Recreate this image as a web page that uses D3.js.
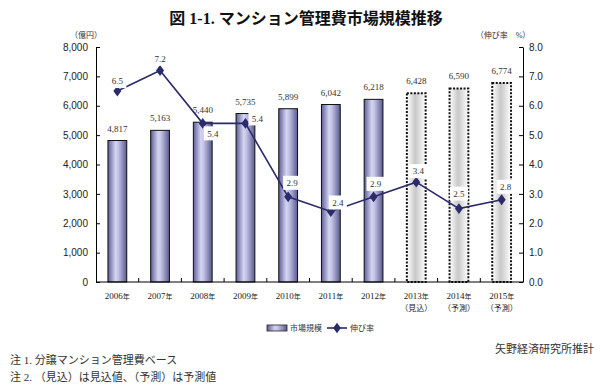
<!DOCTYPE html>
<html>
<head>
<meta charset="utf-8">
<script src="https://cdn.jsdelivr.net/npm/d3@7"></script>
<style>
  body { margin: 0; background: #fff; }
  svg { display: block; font-family: "Liberation Serif", "Noto Sans CJK JP", serif; }
  .axis path, .axis line { stroke: #000; }
  .axis text { font-size: 10px; fill: #222; }
</style>
</head>
<body>
<svg id="chart" width="600" height="388"></svg>
<script>
// ---- data ----
const years = ["2006", "2007", "2008", "2009", "2010", "2011", "2012", "2013", "2014", "2015"];
const yearNotes = ["", "", "", "", "", "", "", "（見込）", "（予測）", "（予測）"];
const marketSize = [4817, 5163, 5440, 5735, 5899, 6042, 6218, 6428, 6590, 6774];
const growthRate = [6.5, 7.2, 5.4, 5.4, 2.9, 2.4, 2.9, 3.4, 2.5, 2.8];
const isForecast = [false, false, false, false, false, false, false, true, true, true];
const leftTicks = [0, 1000, 2000, 3000, 4000, 5000, 6000, 7000, 8000];
const rightTicks = [0, 1, 2, 3, 4, 5, 6, 7, 8];

// ---- layout ----
const CONFIG = {
    plot: { left: 96, right: 523, top: 47, bottom: 282 },
    // offsets of the growth-rate labels from their markers
    rateLabelOffset: [[0, -10], [0, -12], [10, 10], [12, -5], [4, -14], [7, -9], [2, -13], [2, -11], [0, -15], [4, -13]],
    lineColor: "#2b2a6b"
};

const svg = d3.select("#chart");
const P = CONFIG.plot;

const x = d3.scaleBand()
    .domain(years)
    .range([P.left, P.right])
    .paddingInner(0.56)
    .paddingOuter(0.28);

const yLeft = d3.scaleLinear().domain([0, 8000]).range([P.bottom, P.top]);
const yRight = d3.scaleLinear().domain([0, 8]).range([P.bottom, P.top]);

// ---- gradients ----
const defs = svg.append("defs");
const gBar = defs.append("linearGradient").attr("id", "barGrad").attr("x1", 0).attr("x2", 1).attr("y1", 0).attr("y2", 0);
[["0%", "#5e5e96"], ["40%", "#d4d4f2"], ["55%", "#c2c2e6"], ["100%", "#5a5a8e"]]
    .forEach(s => gBar.append("stop").attr("offset", s[0]).attr("stop-color", s[1]));
const gFc = defs.append("linearGradient").attr("id", "fcGrad").attr("x1", 0).attr("x2", 1).attr("y1", 0).attr("y2", 0);
[["0%", "#ffffff"], ["45%", "#c8c8c8"], ["100%", "#ffffff"]]
    .forEach(s => gFc.append("stop").attr("offset", s[0]).attr("stop-color", s[1]));

// ---- title ----
svg.append("text")
    .attr("x", 306).attr("y", 24)
    .attr("text-anchor", "middle")
    .attr("font-size", 16).attr("font-weight", "bold")
    .attr("fill", "#111")
    .text("図 1-1. マンション管理費市場規模推移");

svg.append("text").attr("x", 86).attr("y", 38).attr("text-anchor", "middle")
    .attr("font-size", 8).attr("fill", "#333").text("（億円）");
svg.append("text").attr("x", 503).attr("y", 38).attr("text-anchor", "middle")
    .attr("font-size", 8).attr("fill", "#333").text("（伸び率　%）");

// ---- bars ----
const data = years.map((yr, i) => ({ yr, size: marketSize[i], rate: growthRate[i], fc: isForecast[i], note: yearNotes[i], i }));

svg.append("g").selectAll("rect")
    .data(data)
    .join("rect")
    .attr("x", d => x(d.yr))
    .attr("y", d => yLeft(d.size))
    .attr("width", x.bandwidth())
    .attr("height", d => yLeft(0) - yLeft(d.size))
    .attr("fill", d => d.fc ? "url(#fcGrad)" : "url(#barGrad)")
    .attr("stroke", "#111")
    .attr("stroke-width", d => d.fc ? 2 : 1)
    .attr("stroke-dasharray", d => d.fc ? "2,1.5" : null);

svg.append("g").selectAll("text")
    .data(data)
    .join("text")
    .attr("x", d => x(d.yr) + x.bandwidth() / 2)
    .attr("y", d => yLeft(d.size) - 9)
    .attr("text-anchor", "middle")
    .attr("font-size", 9).attr("fill", "#333")
    .text(d => d3.format(",")(d.size));

// ---- axes ----
svg.append("g").attr("class", "axis")
    .attr("transform", `translate(${P.left},0)`)
    .call(d3.axisLeft(yLeft).tickValues(leftTicks).tickFormat(d3.format(",")).tickSizeInner(-4).tickSizeOuter(0).tickPadding(8));

svg.append("g").attr("class", "axis")
    .attr("transform", `translate(${P.right},0)`)
    .call(d3.axisRight(yRight).tickValues(rightTicks).tickFormat(d3.format(".1f")).tickSizeInner(-4).tickSizeOuter(0).tickPadding(6));

svg.append("line")
    .attr("x1", P.left).attr("x2", P.right)
    .attr("y1", P.bottom).attr("y2", P.bottom)
    .attr("stroke", "#000");

// category boundary ticks
svg.append("g").selectAll("line")
    .data(years.slice(1))
    .join("line")
    .attr("x1", d => x(d) - x.step() * x.paddingInner() / 2)
    .attr("x2", d => x(d) - x.step() * x.paddingInner() / 2)
    .attr("y1", P.bottom).attr("y2", P.bottom - 4)
    .attr("stroke", "#000");

const xl = svg.append("g").selectAll("g")
    .data(data)
    .join("g")
    .attr("transform", d => `translate(${x(d.yr) + x.bandwidth() / 2},0)`);
const t1 = xl.append("text").attr("y", 299).attr("text-anchor", "middle").attr("font-size", 9).attr("fill", "#222");
t1.append("tspan").text(d => d.yr);
t1.append("tspan").attr("font-size", 7).text("年");
xl.filter(d => d.note).append("text")
    .attr("y", 311).attr("text-anchor", "middle").attr("font-size", 8).attr("fill", "#222")
    .text(d => d.note);

// ---- growth line ----
const line = d3.line()
    .x(d => x(d.yr) + x.bandwidth() / 2)
    .y(d => yRight(d.rate));

svg.append("path")
    .datum(data)
    .attr("d", line)
    .attr("fill", "none")
    .attr("stroke", CONFIG.lineColor)
    .attr("stroke-width", 1.6);

const diamond = d3.symbol().type(d3.symbolDiamond).size(42);
svg.append("g").selectAll("path")
    .data(data)
    .join("path")
    .attr("d", diamond)
    .attr("transform", d => `translate(${x(d.yr) + x.bandwidth() / 2},${yRight(d.rate)}) scale(1.15,0.9)`)
    .attr("fill", CONFIG.lineColor);

const rl = svg.append("g").selectAll("g")
    .data(data)
    .join("g")
    .attr("transform", d => {
        const o = CONFIG.rateLabelOffset[d.i];
        return `translate(${x(d.yr) + x.bandwidth() / 2 + o[0]},${yRight(d.rate) + o[1]})`;
    });
rl.append("rect")
    .attr("x", -9).attr("y", -7).attr("width", 18).attr("height", 14)
    .attr("fill", "#fff");
rl.append("text")
    .attr("text-anchor", "middle").attr("dy", "0.35em")
    .attr("font-size", 9).attr("fill", "#333")
    .text(d => d3.format(".1f")(d.rate));

// ---- legend ----
const lg = svg.append("g").attr("transform", "translate(267,328)");
lg.append("rect").attr("x", 0).attr("y", -3).attr("width", 20).attr("height", 6)
    .attr("fill", "url(#barGrad)").attr("stroke", "#222").attr("stroke-width", 0.8);
lg.append("text").attr("x", 23).attr("dy", "0.35em").attr("font-size", 8).attr("fill", "#333").text("市場規模");
lg.append("line").attr("x1", 60).attr("x2", 80).attr("stroke", CONFIG.lineColor).attr("stroke-width", 1.6);
lg.append("path").attr("d", diamond).attr("transform", "translate(70,0) scale(1.1,0.85)").attr("fill", CONFIG.lineColor);
lg.append("text").attr("x", 83).attr("dy", "0.35em").attr("font-size", 8).attr("fill", "#333").text("伸び率");

// ---- notes ----
svg.append("text").attr("x", 594).attr("y", 353).attr("text-anchor", "end")
    .attr("font-size", 11).attr("fill", "#333").text("矢野経済研究所推計");
svg.append("text").attr("x", 10).attr("y", 364)
    .attr("font-size", 11).attr("fill", "#333").text("注 1.  分譲マンション管理費ベース");
svg.append("text").attr("x", 10).attr("y", 381)
    .attr("font-size", 11).attr("fill", "#333").text("注 2.  （見込）は見込値、（予測）は予測値");
</script>
</body>
</html>
